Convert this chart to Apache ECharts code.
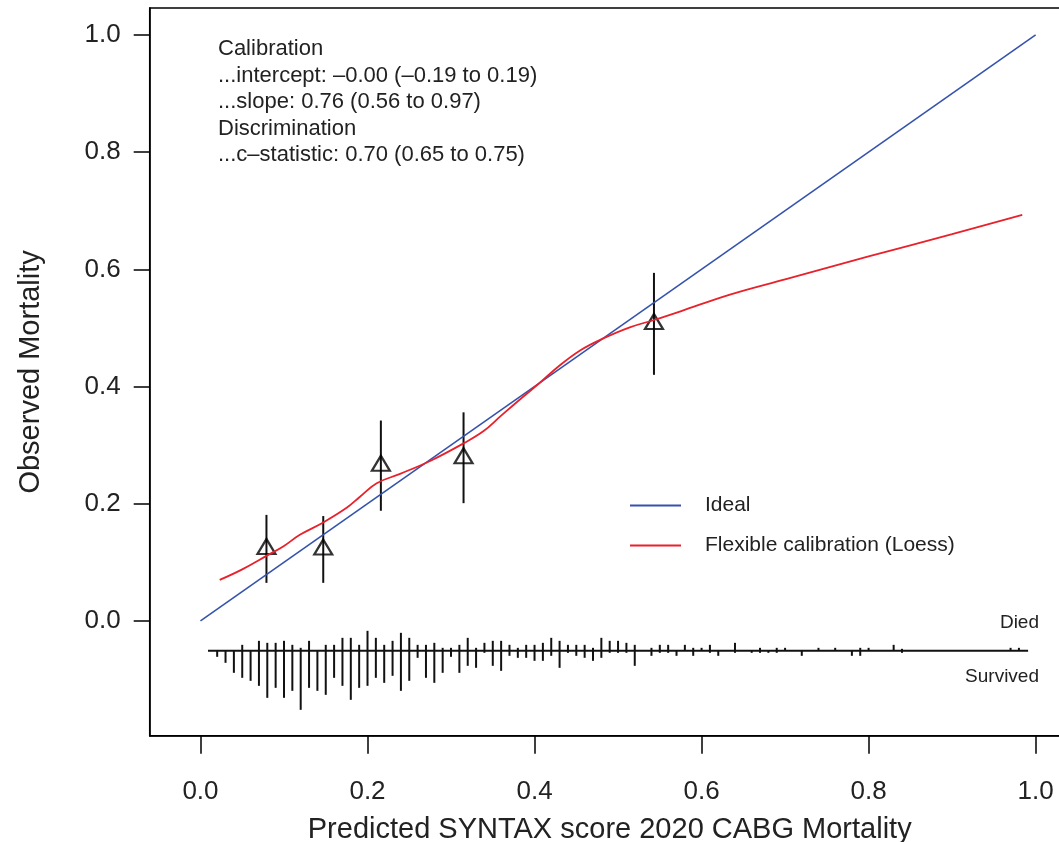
<!DOCTYPE html>
<html>
<head>
<meta charset="utf-8">
<script src="https://cdn.jsdelivr.net/npm/echarts@6/dist/echarts.min.js"></script>
<style>
    html, body { margin: 0; padding: 0; background: #fff; }
    #calib { width: 1059px; height: 842px; }
</style>
</head>
<body>
<div id="calib"></div>
<script>
// tick values on both axes
var tickVals = [0, 0.2, 0.4, 0.6, 0.8, 1.0];

// ideal 45 degree line
var idealLine = [[0, 0], [1, 1]];

// loess flexible calibration curve (predicted, observed)
var loessX = [0.023, 0.05, 0.079, 0.10, 0.119, 0.147, 0.175, 0.191, 0.211, 0.239, 0.275, 0.315, 0.339, 0.359,
    0.38, 0.406, 0.43, 0.455, 0.479, 0.514, 0.544, 0.574, 0.634, 0.70, 0.80, 0.90, 0.984];
var loessY = [0.070, 0.088, 0.111, 0.128, 0.147, 0.168, 0.193, 0.212, 0.235, 0.251, 0.273, 0.303, 0.324, 0.349,
    0.375, 0.406, 0.436, 0.462, 0.480, 0.501, 0.514, 0.528, 0.557, 0.583, 0.622, 0.660, 0.693];

// grouped observed mortality with 95% CI
var grpPred = [0.079, 0.147, 0.216, 0.315, 0.543];
var grpObs = [0.127, 0.126, 0.269, 0.282, 0.511];
var grpLow = [0.065, 0.065, 0.188, 0.201, 0.420];
var grpHigh = [0.181, 0.179, 0.342, 0.356, 0.594];

// spike histogram: bins of predicted risk, died (up) / survived (down) frequency
var binX = [0.02, 0.03, 0.04, 0.05, 0.06, 0.07, 0.08, 0.09, 0.10, 0.11, 0.12, 0.13, 0.14, 0.15, 0.16, 0.17, 0.18, 0.19,
    0.20, 0.21, 0.22, 0.23, 0.24, 0.25, 0.26, 0.27, 0.28, 0.29, 0.30, 0.31, 0.32, 0.33, 0.34, 0.35, 0.36, 0.37,
    0.38, 0.39, 0.40, 0.41, 0.42, 0.43, 0.44, 0.45, 0.46, 0.47, 0.48, 0.49, 0.50, 0.51, 0.52, 0.54, 0.55, 0.56,
    0.57, 0.58, 0.59, 0.60, 0.61, 0.62, 0.64, 0.66, 0.67, 0.68, 0.69, 0.70, 0.72, 0.74, 0.76, 0.78, 0.79, 0.80,
    0.83, 0.84, 0.97, 0.98];
var diedFreq = [0, 0, 0, 6, 0, 10, 8, 8, 10, 6, 3, 10, 0, 6, 6, 13, 13, 6,
    20, 13, 6, 10, 18, 13, 6, 6, 8, 3, 3, 6, 13, 3, 8, 10, 10, 6,
    3, 6, 6, 8, 13, 10, 6, 6, 6, 3, 13, 10, 10, 8, 6, 3, 6, 6,
    0, 6, 3, 3, 6, 0, 8, 0, 3, 0, 3, 3, 0, 3, 3, 0, 3, 3,
    6, 2, 3, 3];
var survFreq = [6, 12, 22, 27, 30, 35, 47, 37, 47, 40, 59, 37, 40, 44, 27, 35, 49, 37,
    35, 27, 32, 25, 40, 30, 7, 27, 32, 22, 6, 22, 15, 17, 2, 15, 20, 5,
    7, 7, 10, 10, 5, 17, 2, 5, 7, 10, 7, 2, 2, 2, 15, 5, 2, 2,
    5, 0, 5, 0, 2, 5, 2, 2, 2, 2, 2, 0, 5, 0, 0, 5, 5, 0,
    0, 2, 0, 0];
var spikeBase = -0.051;
var spikeUnit = 1 / 586;

var statLines = [
    'Calibration',
    '...intercept: \u20130.00 (\u20130.19 to 0.19)',
    '...slope: 0.76 (0.56 to 0.97)',
    'Discrimination',
    '...c\u2013statistic: 0.70 (0.65 to 0.75)'
];

var FONT = '"Liberation Sans", Arial, sans-serif';
var dom = document.getElementById("calib");
var myChart = echarts.init(dom);

var loessData = loessX.map(function (x, i) { return [x, loessY[i]]; });
var obsData = grpPred.map(function (x, i) { return [x, grpObs[i]]; });
var ciData = grpPred.map(function (x, i) { return [x, grpLow[i], grpHigh[i]]; });
var spikeData = binX.map(function (x, i) { return [x, diedFreq[i], survFreq[i]]; });

var texts = statLines.map(function (t, i) {
    return {
        type: 'text', left: 218, top: 38 + i * 26.5,
        style: { text: t, font: '22px ' + FONT, fill: '#222' }
    };
});
texts.push({
    type: 'text', right: 20, top: 613,
    style: { text: 'Died', font: '19px ' + FONT, fill: '#222', textAlign: 'right' }
});
texts.push({
    type: 'text', right: 20, top: 667,
    style: { text: 'Survived', font: '19px ' + FONT, fill: '#222', textAlign: 'right' }
});

option = {
    animation: false,
    backgroundColor: '#fff',
    textStyle: { fontFamily: FONT },
    grid: {
        left: 149.7, top: 8, width: 920, height: 727.8,
        outerBoundsMode: 'none', containLabel: false,
        show: true, borderColor: '#000', borderWidth: 1.5, backgroundColor: 'transparent'
    },
    legend: {
        orient: 'vertical',
        left: 625, top: 490,
        itemWidth: 51, itemHeight: 2, itemGap: 19,
        icon: 'rect',
        data: ['Ideal', 'Flexible calibration (Loess)'],
        textStyle: { fontSize: 21, color: '#222', padding: [0, 0, 0, 19] }
    },
    xAxis: {
        type: 'value',
        min: -0.0608, max: 1.0408,
        name: 'Predicted SYNTAX score 2020 CABG Mortality',
        nameLocation: 'middle', nameGap: 80,
        nameTextStyle: { fontSize: 29, color: '#222' },
        axisLine: { show: true, onZero: false, lineStyle: { color: '#000', width: 1.5 } },
        axisTick: { show: true, length: 18, customValues: tickVals, lineStyle: { color: '#000', width: 1.5 } },
        axisLabel: {
            customValues: tickVals, margin: 43, fontSize: 26, color: '#222',
            formatter: function (v) { return v.toFixed(1); }
        },
        splitLine: { show: false }
    },
    yAxis: {
        type: 'value',
        min: -0.196, max: 1.046,
        name: 'Observed Mortality',
        nameLocation: 'middle', nameGap: 104,
        nameTextStyle: { fontSize: 29, color: '#222' },
        axisLine: { show: true, onZero: false, lineStyle: { color: '#000', width: 1.5 } },
        axisTick: { show: true, length: 16, customValues: tickVals, lineStyle: { color: '#000', width: 1.5 } },
        axisLabel: {
            customValues: tickVals, margin: 29, fontSize: 26, color: '#222',
            formatter: function (v) { return v.toFixed(1); }
        },
        splitLine: { show: false }
    },
    graphic: texts,
    series: [
        {
            name: 'Ideal', type: 'line', data: idealLine,
            symbol: 'none', color: '#3553ad',
            lineStyle: { width: 1.6, color: '#3553ad' }
        },
        {
            name: 'Flexible calibration (Loess)', type: 'line', data: loessData,
            symbol: 'none', smooth: 0.4, color: '#e8212b',
            lineStyle: { width: 1.8, color: '#e8212b' }
        },
        {
            // baseline of the spike histogram
            type: 'line', data: [[0.009, spikeBase], [0.991, spikeBase]],
            symbol: 'none', silent: true,
            lineStyle: { width: 2, color: '#111' }
        },
        {
            type: 'custom', data: spikeData, silent: true,
            renderItem: function (params, api) {
                var x = api.value(0);
                var top = api.coord([x, spikeBase + api.value(1) * spikeUnit]);
                var bot = api.coord([x, spikeBase - api.value(2) * spikeUnit]);
                return {
                    type: 'line',
                    shape: { x1: top[0], y1: top[1], x2: bot[0], y2: bot[1] },
                    style: { stroke: '#111', lineWidth: 2 }
                };
            }
        },
        {
            type: 'custom', data: ciData, silent: true,
            renderItem: function (params, api) {
                var lo = api.coord([api.value(0), api.value(1)]);
                var hi = api.coord([api.value(0), api.value(2)]);
                return {
                    type: 'line',
                    shape: { x1: lo[0], y1: lo[1], x2: hi[0], y2: hi[1] },
                    style: { stroke: '#111', lineWidth: 2 }
                };
            }
        },
        {
            type: 'scatter', data: obsData,
            symbol: 'triangle', symbolSize: [18, 15],
            itemStyle: { color: 'rgba(0,0,0,0)', borderColor: '#000', borderWidth: 2.2 }
        }
    ]
};
myChart.setOption(option);
</script>
</body>
</html>
